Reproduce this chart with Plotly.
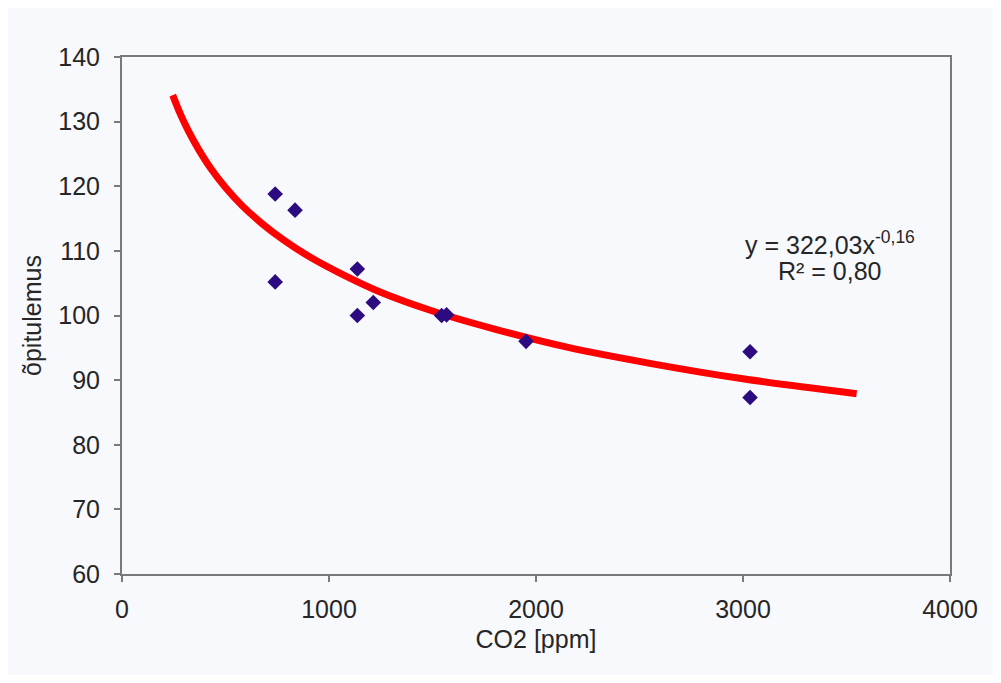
import plotly.graph_objects as go

# measured points
co2 = [740, 740, 836, 1137, 1137, 1214, 1544, 1568, 1952, 3034, 3034]
score = [118.8, 105.2, 116.3, 107.2, 100.0, 102.0, 100.0, 100.1, 96.0, 94.4, 87.3]

# trendline
trend_x = [245, 280, 320, 370, 430, 500, 580, 670, 780, 900, 1050, 1250,
           1500, 1800, 2150, 2550, 3000, 3549]
trend_y = [134.1, 131.3, 128.6, 125.7, 122.7, 119.8, 117.0, 114.4, 111.7, 109.2,
           106.6, 103.6, 100.7, 97.9, 95.1, 92.6, 90.2, 87.9]

x_ticks = [0, 1000, 2000, 3000, 4000]
y_ticks = [60, 70, 80, 90, 100, 110, 120, 130, 140]

FONT = "Liberation Sans, Arial, sans-serif"
BG = "#f8f9fd"
TXT = "#262626"
FS = 25

fig = go.Figure()
fig.add_trace(go.Scatter(x=trend_x, y=trend_y, mode="lines",
                         line=dict(color="#ff0000", width=7, shape="spline", smoothing=0.8),
                         hoverinfo="skip", showlegend=False))
fig.add_trace(go.Scatter(x=co2, y=score, mode="markers",
                         marker=dict(symbol="diamond", size=12, color="#2c0a80"),
                         showlegend=False))

fig.add_annotation(x=3420, y=111.2, xref="x", yref="y",
                   text="y = 322,03x<sup>-0,16</sup>",
                   showarrow=False, xanchor="center", yanchor="middle",
                   font=dict(family=FONT, size=FS, color=TXT))
fig.add_annotation(x=3420, y=106.9, xref="x", yref="y",
                   text="R² = 0,80",
                   showarrow=False, xanchor="center", yanchor="middle",
                   font=dict(family=FONT, size=FS, color=TXT))

axis_common = dict(showline=True, linecolor="#7a7a7a", linewidth=2, mirror=True,
                   ticks="outside", ticklen=6, tickcolor="#7a7a7a", tickwidth=1.5,
                   showgrid=False, zeroline=False,
                   tickfont=dict(family=FONT, size=FS, color=TXT))

W, H = 985, 667
fig.update_layout(
    width=W, height=H,
    margin=dict(l=114, r=43, t=49, b=101),
    paper_bgcolor=BG, plot_bgcolor=BG,
    xaxis=dict(range=[0, 4000], tickvals=x_ticks, ticklabelstandoff=6,
               title=dict(text="CO2 [ppm]", standoff=8,
                          font=dict(family=FONT, size=FS, color=TXT)),
               **axis_common),
    yaxis=dict(range=[60, 140], tickvals=y_ticks, ticklabelstandoff=9,
               title=dict(text="õpitulemus", standoff=10,
                          font=dict(family=FONT, size=FS, color=TXT)),
               **axis_common),
)

fig.write_html("out.html")
